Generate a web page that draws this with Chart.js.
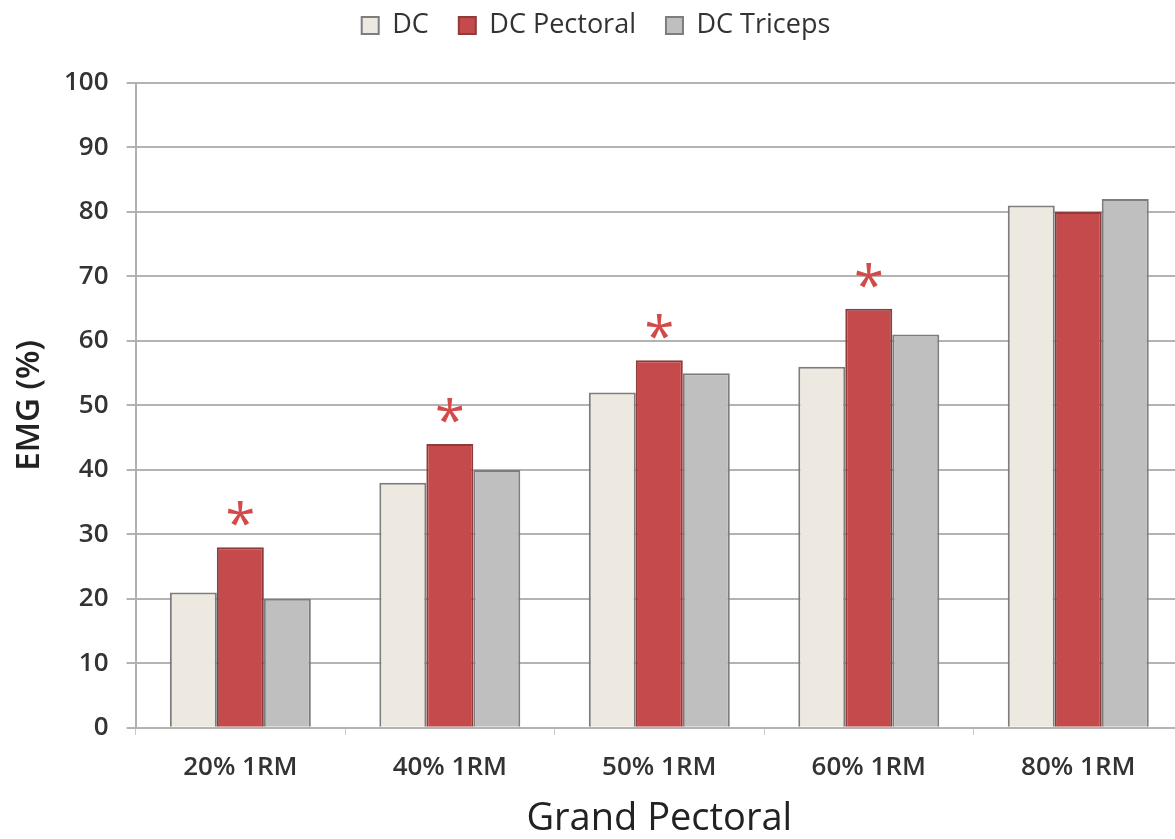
<!DOCTYPE html>
<html lang="en">
<head>
    <meta charset="UTF-8">
    <title>Grand Pectoral EMG</title>
    <script src="https://cdn.jsdelivr.net/npm/chart.js"></script>
    <style>
        html, body { margin: 0; padding: 0; background: #ffffff; overflow: hidden; }
        .wrap { width: 1185px; height: 839px; }
    </style>
</head>
<body>
    <div class="wrap"><canvas id="chart"></canvas></div>
    <script>
        const categories = ['20% 1RM', '40% 1RM', '50% 1RM', '60% 1RM', '80% 1RM'];
        const dcValues = [21, 38, 52, 56, 81];
        const pectoralValues = [28, 44, 57, 65, 80];
        const tricepsValues = [20, 40, 55, 61, 82];
        const significant = [true, true, true, true, false];

        // red asterisk above the pectoral bar where the difference is significant
        const asteriskPlugin = {
            id: 'asterisks',
            afterDatasetsDraw(chart) {
                const meta = chart.getDatasetMeta(1);
                const ctx = chart.ctx;
                ctx.save();
                ctx.fillStyle = '#d24a4a';
                ctx.font = '54px "Open Sans"';
                ctx.textAlign = 'center';
                ctx.textBaseline = 'alphabetic';
                meta.data.forEach((bar, i) => {
                    if (significant[i]) ctx.fillText('*', bar.x, bar.y - 4);
                });
                ctx.restore();
            }
        };

        // more room under the legend, and pull the legend row up
        const legendSpace = {
            id: 'legendSpace',
            beforeInit(chart) {
                const fit = chart.legend.fit;
                chart.legend.fit = function () {
                    fit.bind(chart.legend)();
                    this.height = 83;
                };
            },
            afterLayout(chart) {
                chart.legend.top = -18;
            }
        };

        const ctx = document.getElementById('chart').getContext('2d');
        new Chart(ctx, {
            type: 'bar',
            data: {
                labels: categories,
                datasets: [
                    { label: 'DC', data: dcValues, backgroundColor: '#ede9e1', borderColor: '#7d7d7d', borderWidth: 2 },
                    { label: 'DC Pectoral', data: pectoralValues, backgroundColor: '#c44a4b', borderColor: '#8f3b3b', borderWidth: 2 },
                    { label: 'DC Triceps', data: tricepsValues, backgroundColor: '#bfbfbf', borderColor: '#7d7d7d', borderWidth: 2 }
                ]
            },
            options: {
                responsive: true,
                maintainAspectRatio: false,
                animation: false,
                layout: { padding: { top: 0, right: 2, left: 9, bottom: 1 } },
                datasets: { bar: { categoryPercentage: 0.673, barPercentage: 1.0 } },
                plugins: {
                    legend: {
                        position: 'top',
                        labels: {
                            boxWidth: 17, boxHeight: 17, padding: 30,
                            color: '#333333',
                            font: { family: 'Open Sans', size: 27 }
                        }
                    },
                    tooltip: { enabled: false }
                },
                scales: {
                    x: {
                        grid: { drawOnChartArea: false, drawTicks: true, tickLength: 7, color: '#c8c8c8' },
                        border: { display: false },
                        ticks: { color: '#333333', padding: 17, font: { family: 'Open Sans', size: 26, weight: '600' } },
                        title: { display: true, text: 'Grand Pectoral', color: '#222222', padding: { top: 0, bottom: 0 }, font: { family: 'Open Sans', size: 38, lineHeight: 1.0 } }
                    },
                    y: {
                        min: 0, max: 100,
                        ticks: { stepSize: 10, color: '#333333', padding: 18, font: { family: 'Open Sans', size: 26, weight: '600' } },
                        grid: { color: '#b3b3b3', lineWidth: 2, tickLength: 9 },
                        border: { color: '#b0b0b0', width: 2 },
                        title: { display: true, text: 'EMG (%)', color: '#222222', padding: { top: 4, bottom: 0 }, font: { family: 'Open Sans', size: 33, weight: '600', lineHeight: 1.0 } }
                    }
                }
            },
            plugins: [asteriskPlugin, legendSpace]
        });
    </script>
</body>
</html>
